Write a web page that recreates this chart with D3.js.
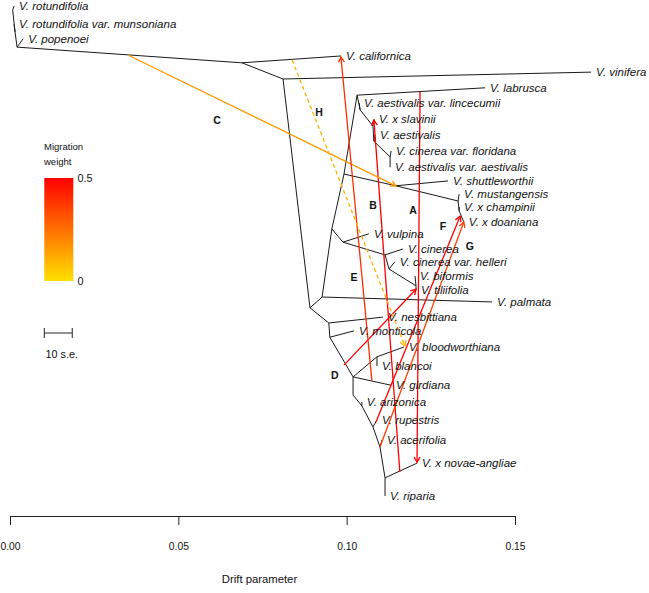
<!DOCTYPE html>
<html>
<head>
<meta charset="utf-8">
<script src="https://cdn.jsdelivr.net/npm/d3@7"></script>
<style>
  html, body { margin: 0; padding: 0; background: #fff; }
  svg { display: block; }
  text { font-family: "Liberation Sans", Arial, sans-serif; }
</style>
</head>
<body>
<svg id="chart" width="649" height="593"></svg>
<script>
// ---------- DATA ----------
const tipNames = ["V. rotundifolia", "V. rotundifolia var. munsoniana", "V. popenoei", "V. californica",
  "V. vinifera", "V. labrusca", "V. aestivalis var. lincecumii", "V. x slavinii", "V. aestivalis",
  "V. cinerea var. floridana", "V. aestivalis var. aestivalis", "V. shuttleworthii", "V. mustangensis",
  "V. x champinii", "V. x doaniana", "V. vulpina", "V. cinerea", "V. cinerea var. helleri", "V. biformis",
  "V. tiliifolia", "V. palmata", "V. nesbittiana", "V. monticola", "V. bloodworthiana", "V. blancoi",
  "V. girdiana", "V. arizonica", "V. rupestris", "V. acerifolia", "V. x novae-angliae", "V. riparia"];
const tipDrift = [0.0012, 0.0012, 0.0039, 0.0983, 0.1726, 0.1411, 0.1037, 0.1081, 0.1084, 0.1132, 0.1129,
  0.1301, 0.1334, 0.1334, 0.1348, 0.1066, 0.1167, 0.1143, 0.1203, 0.1206, 0.1432, 0.1108, 0.1022, 0.1170,
  0.1090, 0.1132, 0.1045, 0.1090, 0.1105, 0.1209, 0.1114];
const tipY = [0.002, 0.039, 0.069, 0.104, 0.137, 0.169, 0.200, 0.233, 0.265, 0.298, 0.331, 0.359, 0.386,
  0.412, 0.443, 0.467, 0.498, 0.524, 0.553, 0.582, 0.606, 0.637, 0.665, 0.698, 0.737, 0.776, 0.810, 0.847,
  0.888, 0.935, 1.002];
const tipParent = ["S", "Q", "R", "N3", "N4", "N17", "N18", "N19", "N20", "N21", "N21", "N15", "N16", "N16b",
  "N16b", "N9", "N11", "N12", "N13", "N13", "N6", "N7", "N22", "N24", "N24", "N23", "N26", "N27", "N28",
  "N29", "N29"];

const innerIds = ["R", "Q", "S", "N3", "N4", "N5", "N6", "N8", "N14", "N17", "N18", "N19", "N20", "N21",
  "N15", "N16", "N16b", "N9", "N11", "N12", "N13", "N7", "N22", "N23", "N24", "N25", "N26", "N27", "N28", "N29"];
const innerDrift = [0.0021, 0.0015, 0.0008, 0.0689, 0.0811, 0.0891, 0.0927, 0.0956, 0.0992, 0.1031, 0.1040,
  0.1078, 0.1081, 0.1129, 0.1146, 0.1331, 0.1334, 0.0989, 0.1114, 0.1126, 0.1206, 0.0947, 0.0950, 0.1019,
  0.1090, 0.1019, 0.1045, 0.1078, 0.1099, 0.1114];
const innerY = [0.086, 0.055, 0.010, 0.118, 0.151, 0.618, 0.596, 0.457, 0.345, 0.184, 0.214, 0.247, 0.278,
  0.310, 0.369, 0.400, 0.420, 0.484, 0.510, 0.539, 0.573, 0.649, 0.678, 0.759, 0.718, 0.796, 0.818, 0.861,
  0.902, 0.965];
const innerParent = [null, "R", "Q", "R", "N3", "N4", "N5", "N6", "N8", "N14", "N17", "N18", "N19", "N20",
  "N14", "N15", "N16", "N8", "N9", "N11", "N12", "N5", "N7", "N22", "N23", "N23", "N25", "N26", "N27", "N28"];

const migNames = ["A", "B", "C", "D", "E", "F", "G", "H"];
const migFromDrift = [0.1218, 0.1158, 0.0350, 0.0992, 0.1075, 0.1087, 0.1099, 0.0838];
const migFromY = [0.177, 0.953, 0.102, 0.735, 0.767, 0.851, 0.902, 0.112];
const migToDrift = [0.1209, 0.1081, 0.1146, 0.1206, 0.0983, 0.1337, 0.1348, 0.1173];
const migToY = [0.933, 0.235, 0.369, 0.580, 0.106, 0.431, 0.443, 0.696];
const migWeight = [0.5, 0.5, 0.16, 0.5, 0.4, 0.5, 0.36, 0.1];
const migDashed = [false, false, false, false, false, false, false, true];
const letterDrift = [0.1197, 0.1078, 0.0615, 0.0965, 0.1022, 0.1286, 0.1366, 0.0918];
const letterY = [0.418, 0.408, 0.235, 0.755, 0.555, 0.451, 0.492, 0.218];

const xTicks = [0, 0.05, 0.10, 0.15];
const weightDomain = [0, 0.5];
const weightTicks = ["0", "0.5"];
const seValue = 0.00083;   // one standard error in drift units
const seCount = 10;

// ---------- SCALES ----------
const svg = d3.select("#chart");
svg.append("rect").attr("width", 649).attr("height", 593).attr("fill", "#fff");

const x = d3.scaleLinear().domain([0, 0.15]).range([10, 515]);
const y = d3.scaleLinear().domain([0, 1]).range([5, 495]);
const color = d3.scaleLinear().domain(weightDomain).range(["#ffe000", "#ff0000"]).interpolate(d3.interpolateHsl);

// node lookup
const nodes = {};
innerIds.forEach((id, i) => nodes[id] = { d: innerDrift[i], y: innerY[i] });

// ---------- TREE EDGES ----------
const edges = [];
innerIds.forEach((id, i) => { if (innerParent[i]) edges.push([nodes[innerParent[i]], nodes[id]]); });
tipNames.forEach((n, i) => edges.push([nodes[tipParent[i]], { d: tipDrift[i], y: tipY[i] }]));

svg.append("g").selectAll("line").data(edges).join("line")
  .attr("x1", e => x(e[0].d)).attr("y1", e => y(e[0].y))
  .attr("x2", e => x(e[1].d)).attr("y2", e => y(e[1].y))
  .attr("stroke", "#1a1a1a").attr("stroke-width", 1);

// ---------- MIGRATIONS ----------
const migs = migNames.map((n, i) => ({
  x1: x(migFromDrift[i]), y1: y(migFromY[i]), x2: x(migToDrift[i]), y2: y(migToY[i]),
  c: color(Math.min(migWeight[i], 0.5)), dashed: migDashed[i]
}));
const gm = svg.append("g");
gm.selectAll("line").data(migs).join("line")
  .attr("x1", m => m.x1).attr("y1", m => m.y1).attr("x2", m => m.x2).attr("y2", m => m.y2)
  .attr("stroke", m => m.c).attr("stroke-width", 1.3)
  .attr("stroke-dasharray", m => m.dashed ? "4,3" : null);
const headLen = 6, headAng = Math.PI / 6;
gm.selectAll("path").data(migs).join("path")
  .attr("d", m => {
    const a = Math.atan2(m.y2 - m.y1, m.x2 - m.x1);
    const p1 = [m.x2 - headLen * Math.cos(a - headAng), m.y2 - headLen * Math.sin(a - headAng)];
    const p2 = [m.x2 - headLen * Math.cos(a + headAng), m.y2 - headLen * Math.sin(a + headAng)];
    return `M${p1[0]},${p1[1]}L${m.x2},${m.y2}L${p2[0]},${p2[1]}`;
  })
  .attr("fill", "none").attr("stroke", m => m.c).attr("stroke-width", 1.3);

// ---------- LABELS ----------
svg.append("g").selectAll("text").data(tipNames).join("text")
  .attr("x", (n, i) => x(tipDrift[i]) + 5).attr("y", (n, i) => y(tipY[i]))
  .attr("dominant-baseline", "central")
  .attr("font-size", "11.5px").attr("font-style", "italic").attr("fill", "#111")
  .text(n => n);

svg.append("g").selectAll("text").data(migNames).join("text")
  .attr("x", (n, i) => x(letterDrift[i])).attr("y", (n, i) => y(letterY[i]))
  .attr("text-anchor", "middle").attr("dominant-baseline", "central")
  .attr("font-size", "10.5px").attr("font-weight", "bold").attr("fill", "#111")
  .text(n => n);

// ---------- AXIS ----------
const axis = d3.axisBottom(x).tickValues(xTicks).tickFormat(d3.format(".2f"))
  .tickSize(9).tickSizeOuter(0).tickPadding(18);
const ga = svg.append("g").attr("transform", "translate(0,516)").call(axis);
ga.select(".domain").attr("stroke", "#222");
ga.selectAll(".tick line").attr("stroke", "#222");
ga.selectAll(".tick text").attr("font-size", "10.3px").attr("fill", "#111")
  .attr("font-family", "'Liberation Sans', Arial, sans-serif");
svg.append("text").attr("x", (x(0) + x(0.15)) / 2 - 3).attr("y", 583)
  .attr("text-anchor", "middle").attr("font-size", "11.3px").attr("fill", "#111")
  .text("Drift parameter");

// ---------- LEGEND ----------
const lg = svg.append("g");
lg.append("text").attr("x", 44).attr("y", 150).attr("font-size", "9.5px").attr("fill", "#111").text("Migration");
lg.append("text").attr("x", 44).attr("y", 165).attr("font-size", "9.5px").attr("fill", "#111").text("weight");
const defs = svg.append("defs");
const grad = defs.append("linearGradient").attr("id", "wgrad")
  .attr("x1", 0).attr("y1", 1).attr("x2", 0).attr("y2", 0);
d3.range(0, 1.0001, 0.1).forEach(t => {
  grad.append("stop").attr("offset", t).attr("stop-color", color(weightDomain[0] + t * (weightDomain[1] - weightDomain[0])));
});
const wScale = d3.scaleLinear().domain(weightDomain).range([281, 178]);
lg.append("rect").attr("x", 44.3).attr("y", wScale(0.5)).attr("width", 29)
  .attr("height", wScale(0) - wScale(0.5)).attr("fill", "url(#wgrad)");
lg.selectAll("text.wt").data(weightTicks).join("text").attr("class", "wt")
  .attr("x", 77.5).attr("y", d => wScale(+d)).attr("dominant-baseline", "central")
  .attr("font-size", "10.8px").attr("fill", "#111").text(d => d);

// scale bar
const sbX0 = 44.3, sbLen = x(seValue * seCount) - x(0), sbY = 333;
lg.append("path")
  .attr("d", `M${sbX0},${sbY}H${sbX0 + sbLen}M${sbX0},${sbY - 5}V${sbY + 5}M${sbX0 + sbLen},${sbY - 5}V${sbY + 5}`)
  .attr("stroke", "#222").attr("fill", "none").attr("stroke-width", 1);
lg.append("text").attr("x", 45.5).attr("y", 353.5).attr("dominant-baseline", "central")
  .attr("font-size", "10.8px").attr("fill", "#111").text(`${seCount} s.e.`);
</script>
</body>
</html>
